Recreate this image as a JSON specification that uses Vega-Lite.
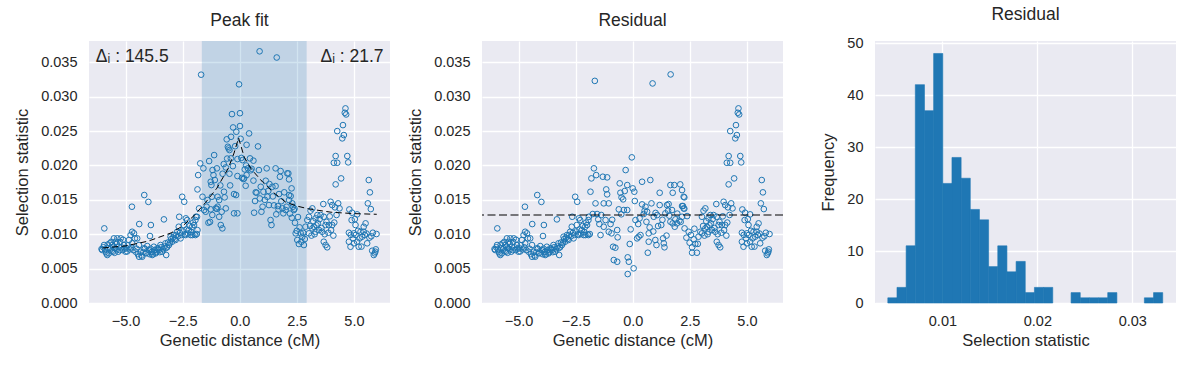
{
  "$schema": "https://vega.github.io/schema/vega-lite/v6.json",
  "background": "white",
  "padding": {"left": 14, "top": 5, "right": 10, "bottom": 5},
  "bounds": "flush",
  "spacing": 92,
  "config": {
    "view": {"fill": "#EAEAF2", "stroke": null},
    "font": "Liberation Sans",
    "axis": {"domain": false, "ticks": false, "grid": true, "gridColor": "#FFFFFF", "gridWidth": 1.3, "labelOverlap": false, "labelFont": "Liberation Sans", "labelFontSize": 14.5, "labelColor": "#262626", "titleFont": "Liberation Sans", "titleFontSize": 16.5, "titleFontWeight": "normal", "titleColor": "#262626"},
    "axisX": {"labelPadding": 11, "titlePadding": 5},
    "axisY": {"labelPadding": 12, "titlePadding": 10},
    "title": {"font": "Liberation Sans", "fontSize": 17.5, "fontWeight": "normal", "color": "#262626", "offset": 12, "anchor": "middle", "frame": "group"}
  },
  "datasets": {
    "pts": [
      {"x":-6.05,"y":0.00785,"set":"both"},{"x":-5.93,"y":0.01085,"set":"both"},{"x":-6.02,"y":0.0077,"set":"both"},{"x":-5.94,"y":0.00843,"set":"both"},{"x":-5.87,"y":0.00746,"set":"both"},{"x":-5.8,"y":0.00698,"set":"both"},{"x":-5.75,"y":0.00795,"set":"both"},{"x":-5.73,"y":0.00722,"set":"both"},{"x":-5.69,"y":0.00868,"set":"both"},{"x":-5.65,"y":0.00795,"set":"both"},{"x":-5.58,"y":0.00843,"set":"both"},{"x":-5.55,"y":0.00746,"set":"both"},{"x":-5.51,"y":0.0094,"set":"both"},{"x":-5.46,"y":0.00795,"set":"both"},{"x":-5.43,"y":0.00891,"set":"both"},{"x":-5.36,"y":0.0094,"set":"both"},{"x":-5.32,"y":0.00746,"set":"both"},{"x":-5.29,"y":0.00818,"set":"both"},{"x":-5.21,"y":0.0094,"set":"both"},{"x":-5.14,"y":0.0077,"set":"both"},{"x":-5.07,"y":0.00843,"set":"both"},{"x":-5.0,"y":0.00746,"set":"both"},{"x":-4.97,"y":0.00795,"set":"both"},{"x":-4.85,"y":0.00916,"set":"both"},{"x":-4.78,"y":0.00988,"set":"both"},{"x":-4.71,"y":0.00868,"set":"both"},{"x":-4.71,"y":0.01036,"set":"both"},{"x":-4.72,"y":0.014,"set":"both"},{"x":-4.63,"y":0.01013,"set":"both"},{"x":-4.59,"y":0.0094,"set":"both"},{"x":-4.56,"y":0.00746,"set":"both"},{"x":-4.49,"y":0.0094,"set":"both"},{"x":-4.41,"y":0.00843,"set":"both"},{"x":-4.41,"y":0.00673,"set":"both"},{"x":-4.4,"y":0.01148,"set":"both"},{"x":-4.34,"y":0.00746,"set":"both"},{"x":-4.27,"y":0.00673,"set":"both"},{"x":-4.2,"y":0.00795,"set":"both"},{"x":-4.18,"y":0.0157,"set":"both"},{"x":-4.12,"y":0.00722,"set":"both"},{"x":-4.05,"y":0.00828,"set":"both"},{"x":-4.0,"y":0.0147,"set":"both"},{"x":-3.98,"y":0.0077,"set":"both"},{"x":-3.93,"y":0.00974,"set":"both"},{"x":-3.89,"y":0.01134,"set":"both"},{"x":-3.83,"y":0.00746,"set":"both"},{"x":-3.83,"y":0.00698,"set":"both"},{"x":-3.76,"y":0.00818,"set":"both"},{"x":-3.68,"y":0.00722,"set":"both"},{"x":-3.61,"y":0.00795,"set":"both"},{"x":-3.54,"y":0.0077,"set":"both"},{"x":-3.47,"y":0.00843,"set":"both"},{"x":-3.4,"y":0.00746,"set":"both"},{"x":-3.32,"y":0.01216,"set":"both"},{"x":-3.25,"y":0.00795,"set":"both"},{"x":-3.25,"y":0.00868,"set":"both"},{"x":-3.22,"y":0.00698,"set":"both"},{"x":-3.1,"y":0.00843,"set":"both"},{"x":-3.03,"y":0.00964,"set":"both"},{"x":-2.96,"y":0.00891,"set":"both"},{"x":-2.88,"y":0.00988,"set":"both"},{"x":-2.81,"y":0.00916,"set":"both"},{"x":-2.74,"y":0.01036,"set":"both"},{"x":-2.67,"y":0.01109,"set":"both"},{"x":-2.65,"y":0.01254,"set":"both"},{"x":-2.59,"y":0.0094,"set":"both"},{"x":-2.52,"y":0.01545,"set":"both"},{"x":-2.45,"y":0.01134,"set":"both"},{"x":-2.43,"y":0.01472,"set":"both"},{"x":-2.37,"y":0.00988,"set":"both"},{"x":-2.36,"y":0.01231,"set":"both"},{"x":-2.3,"y":0.01206,"set":"both"},{"x":-2.23,"y":0.01061,"set":"both"},{"x":-2.15,"y":0.00988,"set":"both"},{"x":-2.08,"y":0.01109,"set":"both"},{"x":-2.07,"y":0.00988,"set":"both"},{"x":-2.0,"y":0.01134,"set":"both"},{"x":-1.94,"y":0.01206,"set":"both"},{"x":-1.94,"y":0.00988,"set":"both"},{"x":-1.92,"y":0.01254,"set":"both"},
      {"x":-5.97,"y":0.0081,"set":"both"},{"x":-5.9,"y":0.0078,"set":"both"},{"x":-5.84,"y":0.0072,"set":"both"},{"x":-5.78,"y":0.0085,"set":"both"},{"x":-5.62,"y":0.0089,"set":"both"},{"x":-5.6,"y":0.0076,"set":"both"},{"x":-5.52,"y":0.0082,"set":"both"},{"x":-5.48,"y":0.0073,"set":"both"},{"x":-5.4,"y":0.0078,"set":"both"},{"x":-5.38,"y":0.0086,"set":"both"},{"x":-5.26,"y":0.0077,"set":"both"},{"x":-5.24,"y":0.0089,"set":"both"},{"x":-5.18,"y":0.0081,"set":"both"},{"x":-5.11,"y":0.0092,"set":"both"},{"x":-5.04,"y":0.0079,"set":"both"},{"x":-4.93,"y":0.0075,"set":"both"},{"x":-4.9,"y":0.0084,"set":"both"},{"x":-4.82,"y":0.0078,"set":"both"},{"x":-4.75,"y":0.0081,"set":"both"},{"x":-4.66,"y":0.0077,"set":"both"},{"x":-4.52,"y":0.0079,"set":"both"},{"x":-4.46,"y":0.0071,"set":"both"},{"x":-4.3,"y":0.0069,"set":"both"},{"x":-4.22,"y":0.0074,"set":"both"},{"x":-4.15,"y":0.0079,"set":"both"},{"x":-4.08,"y":0.0073,"set":"both"},{"x":-3.95,"y":0.0071,"set":"both"},{"x":-3.9,"y":0.0079,"set":"both"},{"x":-3.86,"y":0.0074,"set":"both"},{"x":-3.79,"y":0.0071,"set":"both"},{"x":-3.72,"y":0.0077,"set":"both"},{"x":-3.65,"y":0.0074,"set":"both"},{"x":-3.57,"y":0.0079,"set":"both"},{"x":-3.5,"y":0.0074,"set":"both"},{"x":-3.44,"y":0.0081,"set":"both"},{"x":-3.36,"y":0.0078,"set":"both"},{"x":-3.3,"y":0.0082,"set":"both"},{"x":-3.18,"y":0.0081,"set":"both"},{"x":-3.14,"y":0.0088,"set":"both"},{"x":-3.06,"y":0.0087,"set":"both"},{"x":-3.0,"y":0.0093,"set":"both"},{"x":-2.92,"y":0.0095,"set":"both"},{"x":-2.85,"y":0.0093,"set":"both"},{"x":-2.78,"y":0.0099,"set":"both"},{"x":-2.7,"y":0.0097,"set":"both"},{"x":-2.62,"y":0.0102,"set":"both"},{"x":-2.55,"y":0.0099,"set":"both"},{"x":-2.48,"y":0.0104,"set":"both"},{"x":-2.4,"y":0.01,"set":"both"},{"x":-2.33,"y":0.0107,"set":"both"},{"x":-2.26,"y":0.0101,"set":"both"},{"x":-2.19,"y":0.0112,"set":"both"},{"x":-2.12,"y":0.0103,"set":"both"},{"x":-2.04,"y":0.0117,"set":"both"},{"x":-1.98,"y":0.01,"set":"both"},
      {"x":3.03,"y":0.01254,"set":"both"},{"x":3.03,"y":0.01013,"set":"both"},{"x":3.1,"y":0.01342,"set":"both"},{"x":3.18,"y":0.01376,"set":"both"},{"x":3.18,"y":0.01085,"set":"both"},{"x":3.25,"y":0.01109,"set":"both"},{"x":3.32,"y":0.01231,"set":"both"},{"x":3.32,"y":0.01036,"set":"both"},{"x":3.4,"y":0.01279,"set":"both"},{"x":3.42,"y":0.01158,"set":"both"},{"x":3.47,"y":0.01061,"set":"both"},{"x":3.54,"y":0.01279,"set":"both"},{"x":3.61,"y":0.01036,"set":"both"},{"x":3.66,"y":0.01439,"set":"both"},{"x":3.68,"y":0.01254,"set":"both"},{"x":3.68,"y":0.00891,"set":"both"},{"x":3.76,"y":0.01134,"set":"both"},{"x":3.76,"y":0.00843,"set":"both"},{"x":3.83,"y":0.0081,"set":"both"},{"x":3.88,"y":0.01022,"set":"both"},{"x":3.9,"y":0.01134,"set":"both"},{"x":3.98,"y":0.01472,"set":"both"},{"x":4.05,"y":0.01424,"set":"both"},{"x":4.05,"y":0.01134,"set":"both"},{"x":4.12,"y":0.02039,"set":"both"},{"x":4.17,"y":0.01391,"set":"both"},{"x":4.2,"y":0.02137,"set":"both"},{"x":4.2,"y":0.01725,"set":"both"},{"x":4.27,"y":0.025,"set":"both"},{"x":4.27,"y":0.02039,"set":"both"},{"x":4.31,"y":0.01449,"set":"both"},{"x":4.37,"y":0.01376,"set":"both"},{"x":4.44,"y":0.01812,"set":"both"},{"x":4.49,"y":0.02394,"set":"both"},{"x":4.52,"y":0.02587,"set":"both"},{"x":4.56,"y":0.02442,"set":"both"},{"x":4.6,"y":0.02766,"set":"both"},{"x":4.63,"y":0.0283,"set":"both"},{"x":4.66,"y":0.02742,"set":"both"},{"x":4.71,"y":0.02137,"set":"both"},{"x":4.75,"y":0.02045,"set":"both"},{"x":4.78,"y":0.01022,"set":"both"},{"x":4.78,"y":0.00891,"set":"both"},{"x":4.85,"y":0.00818,"set":"both"},{"x":4.9,"y":0.01206,"set":"both"},{"x":4.92,"y":0.01313,"set":"both"},{"x":5.0,"y":0.01013,"set":"both"},{"x":5.0,"y":0.00868,"set":"both"},{"x":5.07,"y":0.01134,"set":"both"},{"x":5.07,"y":0.00988,"set":"both"},{"x":5.14,"y":0.01289,"set":"both"},{"x":5.14,"y":0.00891,"set":"both"},{"x":5.21,"y":0.00818,"set":"both"},{"x":5.29,"y":0.01036,"set":"both"},{"x":5.36,"y":0.00964,"set":"both"},{"x":5.43,"y":0.01109,"set":"both"},{"x":5.43,"y":0.01036,"set":"both"},{"x":5.48,"y":0.00988,"set":"both"},{"x":5.51,"y":0.01158,"set":"both"},{"x":5.58,"y":0.00868,"set":"both"},{"x":5.61,"y":0.01449,"set":"both"},{"x":5.65,"y":0.01788,"set":"both"},{"x":5.7,"y":0.01609,"set":"both"},{"x":5.74,"y":0.01366,"set":"both"},{"x":5.8,"y":0.0076,"set":"both"},{"x":5.83,"y":0.01022,"set":"both"},{"x":5.87,"y":0.00698,"set":"both"},{"x":5.91,"y":0.00722,"set":"both"},{"x":5.94,"y":0.00746,"set":"both"},{"x":5.99,"y":0.01003,"set":"both"},
      {"x":3.08,"y":0.0112,"set":"both"},{"x":3.14,"y":0.0098,"set":"both"},{"x":3.22,"y":0.0119,"set":"both"},{"x":3.28,"y":0.01,"set":"both"},{"x":3.36,"y":0.0113,"set":"both"},{"x":3.5,"y":0.0122,"set":"both"},{"x":3.58,"y":0.0109,"set":"both"},{"x":3.72,"y":0.01,"set":"both"},{"x":3.8,"y":0.0118,"set":"both"},{"x":3.94,"y":0.0126,"set":"both"},{"x":4.0,"y":0.0106,"set":"both"},{"x":4.1,"y":0.0098,"set":"both"},{"x":4.14,"y":0.0117,"set":"both"},{"x":4.24,"y":0.0128,"set":"both"},{"x":4.8,"y":0.0136,"set":"both"},{"x":4.86,"y":0.0099,"set":"both"},{"x":4.96,"y":0.0094,"set":"both"},{"x":5.04,"y":0.0122,"set":"both"},{"x":5.18,"y":0.0105,"set":"both"},{"x":5.25,"y":0.0094,"set":"both"},{"x":5.33,"y":0.0082,"set":"both"},{"x":5.55,"y":0.0101,"set":"both"},{"x":5.68,"y":0.0095,"set":"both"},{"x":5.76,"y":0.0097,"set":"both"},{"x":5.96,"y":0.0078,"set":"both"},
      {"x":-1.88,"y":0.01003,"set":"fit"},{"x":-1.87,"y":0.01254,"set":"fit"},{"x":-1.85,"y":0.0106,"set":"fit"},{"x":-1.85,"y":0.01652,"set":"fit"},{"x":-1.82,"y":0.0186,"set":"fit"},{"x":-1.78,"y":0.01376,"set":"fit"},{"x":-1.73,"y":0.0203,"set":"fit"},{"x":-1.69,"y":0.0332,"set":"fit"},{"x":-1.63,"y":0.01545,"set":"fit"},{"x":-1.59,"y":0.01958,"set":"fit"},{"x":-1.56,"y":0.01352,"set":"fit"},{"x":-1.49,"y":0.01327,"set":"fit"},{"x":-1.41,"y":0.01497,"set":"fit"},{"x":-1.37,"y":0.01167,"set":"fit"},{"x":-1.34,"y":0.02064,"set":"fit"},{"x":-1.27,"y":0.01362,"set":"fit"},{"x":-1.27,"y":0.01763,"set":"fit"},{"x":-1.24,"y":0.01715,"set":"fit"},{"x":-1.22,"y":0.01545,"set":"fit"},{"x":-1.19,"y":0.01933,"set":"fit"},{"x":-1.15,"y":0.0186,"set":"fit"},{"x":-1.12,"y":0.02151,"set":"fit"},{"x":-1.09,"y":0.01788,"set":"fit"},{"x":-1.05,"y":0.01376,"set":"fit"},{"x":-1.0,"y":0.01958,"set":"fit"},{"x":-0.97,"y":0.01545,"set":"fit"},{"x":-0.97,"y":0.014,"set":"fit"},{"x":-0.9,"y":0.01497,"set":"fit"},{"x":-0.9,"y":0.01254,"set":"fit"},{"x":-0.83,"y":0.01134,"set":"fit"},{"x":-0.79,"y":0.01327,"set":"fit"},{"x":-0.76,"y":0.01085,"set":"fit"},{"x":-0.69,"y":0.01618,"set":"fit"},{"x":-0.66,"y":0.01536,"set":"fit"},{"x":-0.61,"y":0.01972,"set":"fit"},{"x":-0.61,"y":0.01376,"set":"fit"},{"x":-0.57,"y":0.0238,"set":"fit"},{"x":-0.52,"y":0.02272,"set":"fit"},{"x":-0.49,"y":0.02248,"set":"fit"},{"x":-0.45,"y":0.02224,"set":"fit"},{"x":-0.39,"y":0.02103,"set":"fit"},{"x":-0.38,"y":0.02417,"set":"fit"},{"x":-0.34,"y":0.02747,"set":"fit"},{"x":-0.29,"y":0.02553,"set":"fit"},{"x":-0.25,"y":0.01584,"set":"fit"},{"x":-0.25,"y":0.01304,"set":"fit"},{"x":-0.16,"y":0.0157,"set":"fit"},{"x":-0.1,"y":0.02093,"set":"fit"},{"x":-0.1,"y":0.01846,"set":"fit"},{"x":-0.1,"y":0.01304,"set":"fit"},{"x":-0.03,"y":0.0318,"set":"fit"},{"x":0.01,"y":0.0276,"set":"fit"},{"x":0.01,"y":0.02573,"set":"fit"},{"x":0.04,"y":0.02388,"set":"fit"},{"x":0.12,"y":0.02078,"set":"fit"},{"x":0.16,"y":0.01802,"set":"fit"},{"x":0.19,"y":0.01812,"set":"fit"},{"x":0.22,"y":0.01943,"set":"fit"},{"x":0.26,"y":0.01705,"set":"fit"},{"x":0.36,"y":0.01958,"set":"fit"},{"x":0.41,"y":0.02466,"set":"fit"},{"x":0.45,"y":0.02103,"set":"fit"},{"x":0.52,"y":0.01952,"set":"fit"},{"x":0.63,"y":0.01313,"set":"fit"},{"x":0.67,"y":0.01483,"set":"fit"},{"x":0.74,"y":0.01603,"set":"fit"},{"x":0.8,"y":0.02277,"set":"fit"},{"x":0.84,"y":0.01933,"set":"fit"},{"x":0.87,"y":0.0366,"set":"fit"},{"x":0.92,"y":0.0169,"set":"fit"},{"x":0.95,"y":0.01327,"set":"fit"},{"x":1.04,"y":0.01618,"set":"fit"},{"x":1.14,"y":0.01778,"set":"fit"},{"x":1.18,"y":0.01958,"set":"fit"},{"x":1.21,"y":0.01545,"set":"fit"},{"x":1.28,"y":0.01424,"set":"fit"},{"x":1.35,"y":0.01206,"set":"fit"},{"x":1.39,"y":0.01134,"set":"fit"},{"x":1.43,"y":0.0169,"set":"fit"},{"x":1.57,"y":0.017,"set":"fit"},{"x":1.57,"y":0.01958,"set":"fit"},{"x":1.62,"y":0.0357,"set":"fit"},{"x":1.67,"y":0.0141,"set":"fit"},{"x":1.72,"y":0.01584,"set":"fit"},{"x":1.76,"y":0.01836,"set":"fit"},{"x":1.79,"y":0.01919,"set":"fit"},{"x":1.87,"y":0.01376,"set":"fit"},{"x":1.91,"y":0.01304,"set":"fit"},{"x":2.01,"y":0.01352,"set":"fit"},{"x":2.08,"y":0.01885,"set":"fit"},{"x":2.13,"y":0.01885,"set":"fit"},{"x":2.16,"y":0.0157,"set":"fit"},{"x":2.16,"y":0.01798,"set":"fit"},{"x":2.27,"y":0.01667,"set":"fit"},{"x":2.23,"y":0.01555,"set":"fit"},{"x":2.16,"y":0.01497,"set":"fit"},{"x":2.3,"y":0.01449,"set":"fit"},{"x":2.33,"y":0.014,"set":"fit"},{"x":2.37,"y":0.01352,"set":"fit"},{"x":2.42,"y":0.01167,"set":"fit"},{"x":2.45,"y":0.01013,"set":"fit"},{"x":2.52,"y":0.00916,"set":"fit"},{"x":2.59,"y":0.00858,"set":"fit"},{"x":2.67,"y":0.01013,"set":"fit"},{"x":2.74,"y":0.00964,"set":"fit"},{"x":2.81,"y":0.00843,"set":"fit"},{"x":2.88,"y":0.01109,"set":"fit"},{"x":2.96,"y":0.01206,"set":"fit"},
      {"x":0.3,"y":0.0186,"set":"fit"},{"x":0.48,"y":0.0193,"set":"fit"},{"x":0.6,"y":0.0178,"set":"fit"},{"x":0.7,"y":0.0161,"set":"fit"},{"x":0.88,"y":0.0152,"set":"fit"},{"x":1.0,"y":0.014,"set":"fit"},{"x":1.1,"y":0.015,"set":"fit"},{"x":1.25,"y":0.0163,"set":"fit"},{"x":1.3,"y":0.0173,"set":"fit"},{"x":1.45,"y":0.0155,"set":"fit"},{"x":1.5,"y":0.0142,"set":"fit"},{"x":1.6,"y":0.0129,"set":"fit"},{"x":1.7,"y":0.0136,"set":"fit"},{"x":1.82,"y":0.0148,"set":"fit"},{"x":1.95,"y":0.0161,"set":"fit"},{"x":2.05,"y":0.014,"set":"fit"},{"x":2.2,"y":0.013,"set":"fit"},{"x":2.28,"y":0.0124,"set":"fit"},{"x":2.4,"y":0.0137,"set":"fit"},{"x":2.5,"y":0.0105,"set":"fit"},{"x":2.55,"y":0.0125,"set":"fit"},{"x":2.62,"y":0.011,"set":"fit"},{"x":2.7,"y":0.0089,"set":"fit"},{"x":2.78,"y":0.0102,"set":"fit"},{"x":2.85,"y":0.0093,"set":"fit"},{"x":-1.45,"y":0.014,"set":"fit"},{"x":-1.3,"y":0.0118,"set":"fit"},{"x":-1.2,"y":0.0128,"set":"fit"},{"x":-1.0,"y":0.0137,"set":"fit"},{"x":-0.85,"y":0.0171,"set":"fit"},{"x":-0.75,"y":0.0188,"set":"fit"},{"x":-0.7,"y":0.0202,"set":"fit"},{"x":-0.55,"y":0.021,"set":"fit"},{"x":-0.45,"y":0.0188,"set":"fit"},{"x":-0.42,"y":0.0171,"set":"fit"},{"x":-0.3,"y":0.0199,"set":"fit"},{"x":-0.2,"y":0.0228,"set":"fit"},{"x":-0.15,"y":0.0249,"set":"fit"},{"x":0.07,"y":0.0211,"set":"fit"},{"x":0.3,"y":0.023,"set":"fit"},{"x":0.6,"y":0.0207,"set":"fit"},{"x":0.1,"y":0.0182,"set":"fit"},{"x":0.28,"y":0.02,"set":"fit"},
      {"x":-1.88,"y":0.01003,"set":"res"},{"x":-1.85,"y":0.01618,"set":"res"},{"x":-1.81,"y":0.01812,"set":"res"},{"x":-1.75,"y":0.01294,"set":"res"},{"x":-1.7,"y":0.01958,"set":"res"},{"x":-1.66,"y":0.0323,"set":"res"},{"x":-1.63,"y":0.01449,"set":"res"},{"x":-1.6,"y":0.0186,"set":"res"},{"x":-1.56,"y":0.01294,"set":"res"},{"x":-1.51,"y":0.01216,"set":"res"},{"x":-1.46,"y":0.01148,"set":"res"},{"x":-1.41,"y":0.00988,"set":"res"},{"x":-1.31,"y":0.01836,"set":"res"},{"x":-1.27,"y":0.01449,"set":"res"},{"x":-1.27,"y":0.01109,"set":"res"},{"x":-1.19,"y":0.01206,"set":"res"},{"x":-1.16,"y":0.01652,"set":"res"},{"x":-1.12,"y":0.0158,"set":"res"},{"x":-1.12,"y":0.01827,"set":"res"},{"x":-1.05,"y":0.01449,"set":"res"},{"x":-1.05,"y":0.01036,"set":"res"},{"x":-0.97,"y":0.01148,"set":"res"},{"x":-0.93,"y":0.01013,"set":"res"},{"x":-0.86,"y":0.00818,"set":"res"},{"x":-0.83,"y":0.00625,"set":"res"},{"x":-0.76,"y":0.00804,"set":"res"},{"x":-0.68,"y":0.01061,"set":"res"},{"x":-0.68,"y":0.006,"set":"res"},{"x":-0.66,"y":0.00955,"set":"res"},{"x":-0.61,"y":0.01362,"set":"res"},{"x":-0.57,"y":0.0174,"set":"res"},{"x":-0.54,"y":0.01603,"set":"res"},{"x":-0.49,"y":0.01536,"set":"res"},{"x":-0.42,"y":0.01507,"set":"res"},{"x":-0.39,"y":0.01352,"set":"res"},{"x":-0.35,"y":0.01628,"set":"res"},{"x":-0.31,"y":0.01933,"set":"res"},{"x":-0.24,"y":0.01715,"set":"res"},{"x":-0.24,"y":0.01352,"set":"res"},{"x":-0.22,"y":0.00664,"set":"res"},{"x":-0.22,"y":0.00421,"set":"res"},{"x":-0.17,"y":0.006,"set":"res"},{"x":-0.13,"y":0.00858,"set":"res"},{"x":-0.09,"y":0.01071,"set":"res"},{"x":-0.04,"y":0.02118,"set":"res"},{"x":0.0,"y":0.01667,"set":"res"},{"x":0.04,"y":0.00504,"set":"res"},{"x":0.07,"y":0.01618,"set":"res"},{"x":0.09,"y":0.01483,"set":"res"},{"x":0.12,"y":0.01206,"set":"res"},{"x":0.19,"y":0.0094,"set":"res"},{"x":0.24,"y":0.01148,"set":"res"},{"x":0.26,"y":0.00964,"set":"res"},{"x":0.34,"y":0.00988,"set":"res"},{"x":0.41,"y":0.01763,"set":"res"},{"x":0.41,"y":0.01434,"set":"res"},{"x":0.48,"y":0.01294,"set":"res"},{"x":0.52,"y":0.01342,"set":"res"},{"x":0.56,"y":0.014,"set":"res"},{"x":0.63,"y":0.01327,"set":"res"},{"x":0.66,"y":0.00731,"set":"res"},{"x":0.7,"y":0.01013,"set":"res"},{"x":0.7,"y":0.00891,"set":"res"},{"x":0.74,"y":0.011,"set":"res"},{"x":0.77,"y":0.01788,"set":"res"},{"x":0.82,"y":0.01449,"set":"res"},{"x":0.87,"y":0.03193,"set":"res"},{"x":0.92,"y":0.01254,"set":"res"},{"x":0.99,"y":0.00916,"set":"res"},{"x":1.04,"y":0.00843,"set":"res"},{"x":1.07,"y":0.01279,"set":"res"},{"x":1.11,"y":0.01119,"set":"res"},{"x":1.18,"y":0.01603,"set":"res"},{"x":1.18,"y":0.01424,"set":"res"},{"x":1.25,"y":0.01134,"set":"res"},{"x":1.33,"y":0.0094,"set":"res"},{"x":1.36,"y":0.00868,"set":"res"},{"x":1.39,"y":0.0081,"set":"res"},{"x":1.43,"y":0.01304,"set":"res"},{"x":1.5,"y":0.01424,"set":"res"},{"x":1.55,"y":0.01342,"set":"res"},{"x":1.57,"y":0.01439,"set":"res"},{"x":1.65,"y":0.01715,"set":"res"},{"x":1.65,"y":0.01182,"set":"res"},{"x":1.66,"y":0.03324,"set":"res"},{"x":1.72,"y":0.01352,"set":"res"},{"x":1.75,"y":0.01603,"set":"res"},{"x":1.75,"y":0.01158,"set":"res"},{"x":1.82,"y":0.01715,"set":"res"},{"x":1.84,"y":0.01109,"set":"res"},{"x":1.87,"y":0.01216,"set":"res"},{"x":1.94,"y":0.01158,"set":"res"},{"x":2.04,"y":0.01197,"set":"res"},{"x":2.08,"y":0.01725,"set":"res"},{"x":2.16,"y":0.01642,"set":"res"},{"x":2.16,"y":0.0141,"set":"res"},{"x":2.16,"y":0.01254,"set":"res"},{"x":2.2,"y":0.0141,"set":"res"},{"x":2.23,"y":0.01545,"set":"res"},{"x":2.23,"y":0.01376,"set":"res"},{"x":2.26,"y":0.01536,"set":"res"},{"x":2.26,"y":0.01371,"set":"res"},{"x":2.27,"y":0.01085,"set":"res"},{"x":2.38,"y":0.01264,"set":"res"},{"x":2.45,"y":0.01036,"set":"res"},{"x":2.49,"y":0.00877,"set":"res"},{"x":2.6,"y":0.0081,"set":"res"},{"x":2.6,"y":0.00731,"set":"res"},{"x":2.67,"y":0.00926,"set":"res"},{"x":2.74,"y":0.00858,"set":"res"},{"x":2.81,"y":0.00731,"set":"res"},{"x":2.88,"y":0.00964,"set":"res"},{"x":2.96,"y":0.01036,"set":"res"},
      {"x":-1.38,"y":0.0128,"set":"res"},{"x":-0.9,"y":0.0121,"set":"res"},{"x":-0.5,"y":0.0129,"set":"res"},{"x":0.3,"y":0.0123,"set":"res"},{"x":0.6,"y":0.0118,"set":"res"},{"x":0.9,"y":0.0104,"set":"res"},{"x":1.0,"y":0.0131,"set":"res"},{"x":1.3,"y":0.0121,"set":"res"},{"x":1.48,"y":0.0098,"set":"res"},{"x":1.6,"y":0.0127,"set":"res"},{"x":1.95,"y":0.013,"set":"res"},{"x":2.1,"y":0.0118,"set":"res"},{"x":2.35,"y":0.0095,"set":"res"},{"x":2.55,"y":0.0099,"set":"res"},{"x":2.7,"y":0.0108,"set":"res"},{"x":2.85,"y":0.0086,"set":"res"}
    ],
    "fitline": [
      {"x":-6.0,"y":0.008},{"x":-5.0,"y":0.0083},{"x":-4.0,"y":0.009},{"x":-3.0,"y":0.0102},{"x":-2.5,"y":0.0112},{"x":-2.0,"y":0.0127},{"x":-1.5,"y":0.0146},{"x":-1.0,"y":0.0167},{"x":-0.5,"y":0.0196},{"x":-0.25,"y":0.0218},{"x":-0.05,"y":0.024},{"x":0.2,"y":0.0212},{"x":0.5,"y":0.0195},{"x":1.0,"y":0.0176},{"x":1.5,"y":0.016},{"x":2.0,"y":0.0147},{"x":2.5,"y":0.0141},{"x":3.0,"y":0.0137},{"x":4.0,"y":0.0132},{"x":5.0,"y":0.013},{"x":6.0,"y":0.0129}
    ],
    "span": [{"lo": -1.66, "hi": 2.93}],
    "level": [{"y": 0.0128}],
    "notes": [{"x": -6.3, "y": 0.0358, "label": "Δᵢ : 145.5", "side": "left"}, {"x": 6.3, "y": 0.0358, "label": "Δᵢ : 21.7", "side": "right"}],
    "hist": [
      {"lo":0.00425,"hi":0.005215,"count":1},{"lo":0.005215,"hi":0.00618,"count":3},{"lo":0.00618,"hi":0.007145,"count":11},{"lo":0.007145,"hi":0.00811,"count":42},{"lo":0.00811,"hi":0.009075,"count":37},{"lo":0.009075,"hi":0.01004,"count":48},{"lo":0.01004,"hi":0.011005,"count":23},{"lo":0.011005,"hi":0.01197,"count":28},{"lo":0.01197,"hi":0.012935,"count":24},{"lo":0.012935,"hi":0.0139,"count":18},{"lo":0.0139,"hi":0.014865,"count":16},{"lo":0.014865,"hi":0.01583,"count":7},{"lo":0.01583,"hi":0.016795,"count":11},{"lo":0.016795,"hi":0.01776,"count":6},{"lo":0.01776,"hi":0.018725,"count":8},{"lo":0.018725,"hi":0.01969,"count":2},{"lo":0.01969,"hi":0.020655,"count":3},{"lo":0.020655,"hi":0.02162,"count":3},{"lo":0.02355,"hi":0.024515,"count":2},{"lo":0.024515,"hi":0.02548,"count":1},{"lo":0.02548,"hi":0.026445,"count":1},{"lo":0.026445,"hi":0.02741,"count":1},{"lo":0.02741,"hi":0.028375,"count":2},{"lo":0.031270,"hi":0.032235,"count":1},{"lo":0.032235,"hi":0.0332,"count":2}
    ]
  },
  "hconcat": [
    {
      "title": "Peak fit",
      "width": 301,
      "height": 262,
      "layer": [
        {
          "data": {"name": "span"},
          "mark": {"type": "rect", "color": "#1f77b4", "opacity": 0.2},
          "encoding": {
            "x": {"field": "lo", "type": "quantitative", "scale": {"domain": [-6.6, 6.58], "nice": false, "zero": false}, "axis": {"values": [-5, -2.5, 0, 2.5, 5], "format": ".1f", "title": "Genetic distance (cM)"}},
            "x2": {"field": "hi"}
          }
        },
        {
          "data": {"name": "pts"},
          "transform": [{"filter": "datum.set != 'res'"}],
          "mark": {"type": "point", "shape": "circle", "filled": false, "size": 32, "strokeWidth": 1, "color": "#1f77b4", "opacity": 1},
          "encoding": {
            "x": {"field": "x", "type": "quantitative", "scale": {"domain": [-6.6, 6.58], "nice": false, "zero": false}},
            "y": {"field": "y", "type": "quantitative", "scale": {"domain": [0, 0.0381], "nice": false}, "axis": {"values": [0, 0.005, 0.01, 0.015, 0.02, 0.025, 0.03, 0.035], "tickCount": 20, "format": ".3f", "title": "Selection statistic"}}
          }
        },
        {
          "data": {"name": "fitline"},
          "mark": {"type": "line", "color": "black", "strokeWidth": 1, "strokeDash": [6, 3.5]},
          "encoding": {
            "x": {"field": "x", "type": "quantitative"},
            "y": {"field": "y", "type": "quantitative"}
          }
        },
        {
          "data": {"name": "notes"},
          "transform": [{"filter": "datum.side == 'left'"}],
          "mark": {"type": "text", "align": "left", "baseline": "middle", "fontSize": 17.5, "font": "Liberation Sans", "color": "#262626"},
          "encoding": {
            "x": {"field": "x", "type": "quantitative"},
            "y": {"field": "y", "type": "quantitative"},
            "text": {"field": "label"}
          }
        },
        {
          "data": {"name": "notes"},
          "transform": [{"filter": "datum.side == 'right'"}],
          "mark": {"type": "text", "align": "right", "baseline": "middle", "fontSize": 17.5, "font": "Liberation Sans", "color": "#262626"},
          "encoding": {
            "x": {"field": "x", "type": "quantitative"},
            "y": {"field": "y", "type": "quantitative"},
            "text": {"field": "label"}
          }
        }
      ]
    },
    {
      "title": "Residual",
      "width": 301,
      "height": 262,
      "layer": [
        {
          "data": {"name": "pts"},
          "transform": [{"filter": "datum.set != 'fit'"}],
          "mark": {"type": "point", "shape": "circle", "filled": false, "size": 32, "strokeWidth": 1, "color": "#1f77b4", "opacity": 1},
          "encoding": {
            "x": {"field": "x", "type": "quantitative", "scale": {"domain": [-6.6, 6.58], "nice": false, "zero": false}, "axis": {"values": [-5, -2.5, 0, 2.5, 5], "format": ".1f", "title": "Genetic distance (cM)"}},
            "y": {"field": "y", "type": "quantitative", "scale": {"domain": [0, 0.0381], "nice": false}, "axis": {"values": [0, 0.005, 0.01, 0.015, 0.02, 0.025, 0.03, 0.035], "tickCount": 20, "format": ".3f", "title": "Selection statistic"}}
          }
        },
        {
          "data": {"name": "level"},
          "mark": {"type": "rule", "color": "black", "strokeWidth": 1.2, "strokeDash": [8, 3.5]},
          "encoding": {
            "y": {"field": "y", "type": "quantitative"}
          }
        }
      ]
    },
    {
      "title": "Residual",
      "width": 301,
      "height": 262,
      "data": {"name": "hist"},
      "mark": {"type": "rect", "color": "#1f77b4", "stroke": "#1f77b4", "strokeWidth": 0.6, "opacity": 1},
      "encoding": {
        "x": {"field": "lo", "type": "quantitative", "scale": {"domain": [0.0029, 0.0346], "nice": false, "zero": false}, "axis": {"values": [0.01, 0.02, 0.03], "format": ".2f", "title": "Selection statistic"}},
        "x2": {"field": "hi"},
        "y": {"field": "count", "type": "quantitative", "scale": {"domain": [0, 50.4], "nice": false}, "axis": {"values": [0, 10, 20, 30, 40, 50], "title": "Frequency"}},
        "y2": {"datum": 0}
      }
    }
  ]
}
